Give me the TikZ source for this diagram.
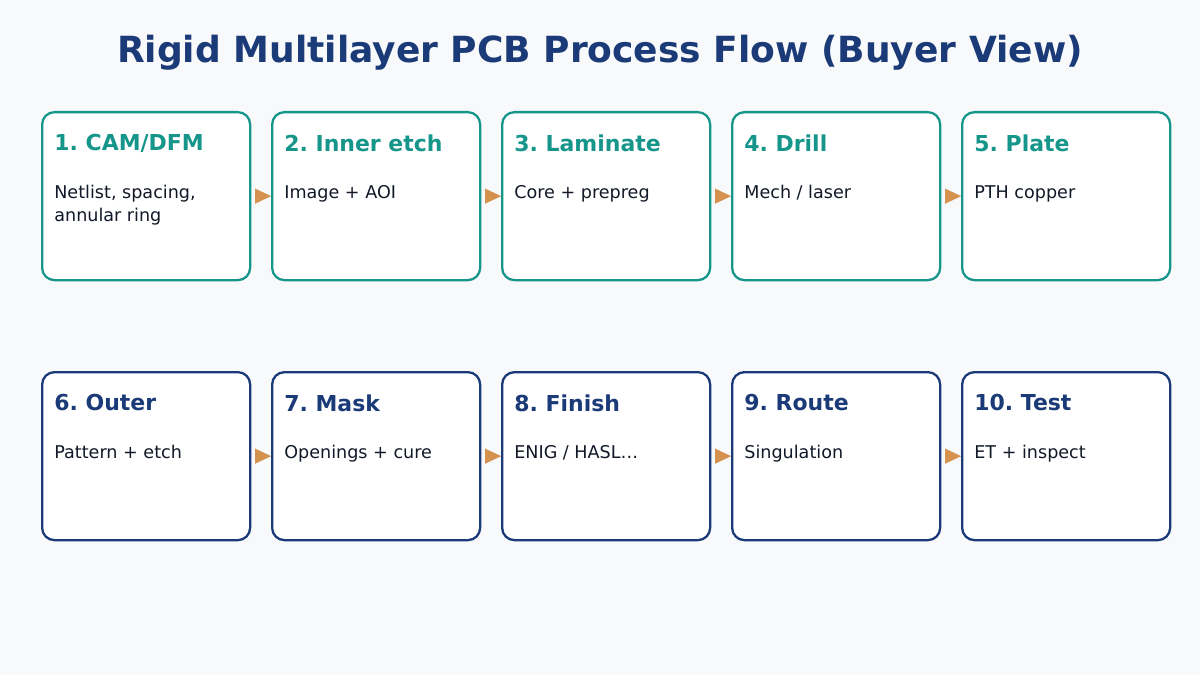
\documentclass[tikz,border=0pt]{standalone}
\usepackage{fontspec}
\setmainfont{DejaVu Sans}
\frenchspacing
\usetikzlibrary{positioning,arrows.meta}
\definecolor{bgc}{HTML}{F8F9FB}
\definecolor{tealc}{HTML}{16968A}
\definecolor{navyc}{HTML}{1A3A78}
\definecolor{arrc}{HTML}{D4924E}
\definecolor{txtc}{HTML}{111827}
\tikzset{
  step/.style={draw=#1, fill=white, line width=1.3pt, rounded corners=7pt,
    minimum width=4.16cm, minimum height=3.36cm, anchor=north west},
  head/.style={font=\bfseries\fontsize{12.5}{14}\selectfont, anchor=north west, inner sep=0pt},
  body/.style={font=\fontsize{10}{13}\selectfont, text=txtc, anchor=north west, inner sep=0pt, align=left},
  flow/.style={draw=arrc, line width=0.1pt, shorten <=0.14cm, -{Triangle[length=0.32cm,width=0.3cm,fill=arrc]}}
}
\begin{document}
\begin{tikzpicture}
  \fill[bgc] (0,0) rectangle (24,13.5);
  \node[font=\bfseries\fontsize{20.5}{24}\selectfont, text=navyc] (title) at (12,12.45) {Rigid Multilayer PCB Process Flow (Buyer View)};
  % top row
  \foreach \i/\h/\b [count=\c from 0] in {1/{1. CAM/DFM}/{Netlist, spacing,\\annular ring},2/{2. Inner etch}/{Image + AOI},3/{3. Laminate}/{Core + prepreg},4/{4. Drill}/{Mech / laser},5/{5. Plate}/{PTH copper}} {
    \node[step=tealc] (s\i) at (0.82+4.6*\c,11.28) {};
    \node[head, text=tealc] (h\i) at ([xshift=0.26cm,yshift=-0.46cm]s\i.north west) {\h};
    \node[body] (b\i) at ([xshift=0.26cm,yshift=-1.48cm]s\i.north west) {\b};
  }
  % bottom row
  \foreach \i/\h/\b [count=\c from 0] in {6/{6. Outer}/{Pattern + etch},7/{7. Mask}/{Openings + cure},8/{8. Finish}/{ENIG / HASL…},9/{9. Route}/{Singulation},10/{10. Test}/{ET + inspect}} {
    \node[step=navyc] (s\i) at (0.82+4.6*\c,6.08) {};
    \node[head, text=navyc] (h\i) at ([xshift=0.26cm,yshift=-0.46cm]s\i.north west) {\h};
    \node[body] (b\i) at ([xshift=0.26cm,yshift=-1.48cm]s\i.north west) {\b};
  }
  \foreach \a/\b in {1/2,2/3,3/4,4/5,6/7,7/8,8/9,9/10}
    \draw[flow] (s\a.east) -- (s\b.west);
\end{tikzpicture}
\end{document}
